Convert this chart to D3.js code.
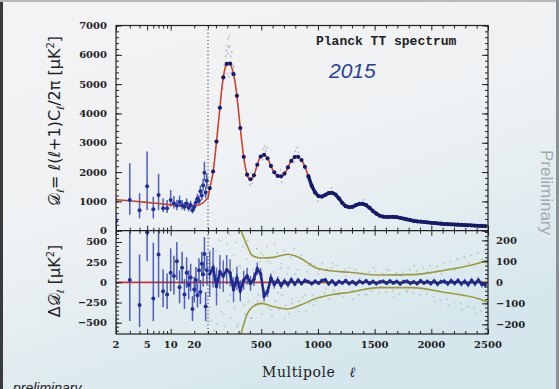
<!DOCTYPE html>
<html>
<head>
<meta charset="utf-8">
<script src="https://cdn.jsdelivr.net/npm/d3@7"></script>
<style>
html, body { margin: 0; padding: 0; overflow: hidden; }
svg { display: block; }
</style>
</head>
<body>
<svg id="chart"></svg>
<script>
// best fit LCDM curve
var theoryL = [2,3,4,5,6,8,10,13,16,20,23,26,29,30,40,50,60,70,80,90,100,110,120,130,140,150,160,170,180,190,200,210,220,230,240,250,260,270,280,290,300,310,320,330,340,350,360,370,380,390,400,410,420,430,440,450,460,470,480,490,500,510,520,530,540,550,560,570,580,590,600,620,640,660,680,700,720,740,760,780,800,820,840,860,880,900,920,940,960,980,1000,1020,1040,1060,1080,1100,1120,1140,1160,1180,1200,1220,1240,1260,1280,1300,1320,1340,1360,1380,1400,1420,1440,1460,1480,1500,1550,1600,1650,1700,1750,1800,1850,1900,1950,2000,2100,2200,2300,2400,2500];
var theoryD = [1060,1020,990,965,945,910,885,850,830,840,880,960,1080,1120,1320,1520,1700,1880,2150,2480,2850,3230,3600,3980,4400,4800,5100,5350,5530,5650,5710,5730,5720,5660,5560,5420,5250,5030,4760,4420,4050,3680,3320,2980,2660,2380,2150,1980,1860,1790,1760,1760,1790,1850,1940,2060,2190,2310,2420,2500,2550,2580,2590,2580,2550,2500,2430,2350,2260,2170,2080,1960,1880,1850,1860,1920,2040,2200,2350,2460,2520,2530,2480,2380,2230,2030,1800,1580,1400,1270,1190,1160,1170,1210,1260,1290,1300,1280,1220,1130,1020,920,850,810,800,810,840,880,910,920,910,880,830,760,690,620,500,470,470,460,420,370,330,310,290,270,230,210,190,170,150];

// low-l (2-29) points with error bar ends
var lowL  = [2,3,4,5,6,7,8,9,10,11,12,13,14,15,16,17,18,19,20,21,22,23,24,25,26,27,28,29];
var lowD  = [320,1050,700,1520,730,1220,770,770,1050,940,860,980,870,820,930,780,880,700,810,960,1100,1020,1350,1200,1550,1980,1300,1700];
var lowLo = [130,540,420,700,420,700,640,600,820,760,700,800,720,680,790,660,760,590,700,840,960,890,1180,1040,1360,1700,1120,1470];
var lowHi = [620,2300,1280,2700,1160,1940,1110,1050,1390,1180,1060,1200,1050,980,1100,920,1020,830,940,1100,1260,1180,1540,1380,1760,2350,1520,1950];

// low-l residuals (left axis)
var lowRes   = [-740,30,-280,620,-200,345,-110,-150,120,80,260,-60,180,-150,120,-30,60,-330,-90,30,-160,150,-120,230,100,350,-300,150];
var lowResLo = [-1050,-480,-555,260,-480,-185,-310,-330,-110,-150,30,-260,-20,-330,-70,-210,-110,-480,-250,-130,-310,0,-270,80,-50,150,-480,-30];
var lowResHi = [-430,1280,345,1800,490,1000,160,110,420,330,500,150,380,40,310,150,230,-170,70,190,-10,300,30,380,250,560,-120,330];

// binned high-l points
var binL = [45,75,105,135,165,195,225,255,285,315,345,375,405,435,465,495,525,555,585,615,645,675,705,735,765,795,825,855,885,915,945,975,1005,1035,1065,1095,1125,1155,1185,1215,1245,1275,1305,1335,1365,1395,1425,1455,1485,1515,1545,1575,1605,1635,1665,1695,1725,1755,1785,1815,1845,1875,1905,1935,1965,1995,2025,2055,2085,2115,2145,2175,2205,2235,2265,2295,2325,2355,2385,2415,2445,2475];
var binD = [1450,2020,3040,4190,5230,5690,5700,5340,4600,3500,2520,1910,1755,1890,2250,2530,2590,2470,2210,1990,1870,1855,1950,2160,2380,2510,2520,2410,2180,1860,1530,1300,1180,1165,1220,1285,1295,1235,1105,945,835,800,815,870,915,915,870,780,670,580,510,480,468,470,470,462,440,415,385,360,335,318,308,296,285,272,262,250,238,228,222,215,210,204,198,192,186,180,174,168,162,156];
var binRes = [40,70,-20,50,30,60,45,-35,20,-40,10,30,-5,15,65,40,-65,-45,20,-10,10,-15,5,-10,12,-8,10,-5,8,3,-6,5,-4,9,12,-7,6,-10,4,-3,8,-6,3,-8,5,-2,7,-5,4,-6,2,5,-4,6,-3,4,-7,3,5,-4,2,-6,7,-3,4,-5,6,-8,3,5,-6,7,-4,9,-7,4,-10,8,-6,10,-9,-12];
var binErr = [110,95,90,80,75,70,65,60,55,50,45,40,35,32,30,28,26,24,22,20,18,16,15,14,13,12,12,11,11,10,10,10,9,9,9,9,9,9,9,9,9,9,9,9,9,9,9,9,9,9,9,9,9,9,9,10,10,10,10,10,10,10,10,10,11,11,11,11,11,12,12,12,12,12,13,13,13,14,14,14,15,15];

// +-1 sigma envelope in residual panel (right axis)
var envL  = [320,379,420,500,610,735,847,970,1110,1280,1535,1830,2120,2415,2500];
var envUp = [249,170,128,116,119,134,115,72,55,48,35,37,58,91,106];
var envLo = [-249,-147,-118,-100,-116,-127,-108,-79,-60,-47,-25,-25,-48,-78,-95];

// unbinned grey points
var scatL = [40,55,70,85,100,115,130,145,160,175,190,205,220,235,250,265,280,295,310,325,340,355,370,385,400,415,430,445,460,475,490,505,520,535,550,565,580,595,610,625,640,655,670,685,700,715,730,745,760,775,790,805,820,835,850,865,880,895,910,925,940,955,970,985,1000,1020,1040,1060,1080,1100,1120,1140,1160,1180,1200,1220,1240,1260,1280,1300,1330,1360,1390,1420,1450,1480,1510,1540,1570,1600,1630,1660,1690,1720,1750,1780,1810,1840,1870,1900,1930,1960,1990,2020,2050,2080,2110,2140,2170,2200,2230,2260,2290,2320,2350,2380,2410,2440,2470,2495];
var scatR = [210,-180,90,-230,150,-60,200,-140,40,-210,120,-90,230,-170,60,-120,190,-200,80,-40,170,-150,110,-90,140,-170,60,-110,160,-60,100,-150,130,-40,170,-120,90,-160,50,-90,140,-130,70,-60,150,-110,40,-150,120,-80,160,-120,60,-90,130,-70,100,-140,50,-100,90,-60,80,-90,40,-70,90,-50,60,-80,70,-40,80,-60,50,-70,60,-50,70,-40,60,-60,45,-55,50,-40,55,-50,40,-45,55,-40,45,-55,50,-45,60,-50,55,-60,70,-55,80,-70,75,-85,90,-80,100,-95,110,-100,120,-115,130,-120,140,-135,150,-140];
var scatL2 = [48,78,108,138,168,198,228,258,288,318,348,378,408,438,468,498,528,558,588,618,648,678,708,738,768,798,828,858,888,918,960,1010,1070,1130,1190,1250,1310,1370,1430,1490,1550,1610,1670,1730,1790,1850,1910,1970,2030,2090,2150,2210,2270,2330,2390,2450];
var scatR2 = [-120,160,-200,90,-150,180,-60,130,-210,70,-110,200,-170,40,-90,140,-60,100,-130,180,-50,90,-170,70,-100,40,-140,110,-60,80,-110,60,-30,90,-50,30,-80,20,-60,70,-20,60,-70,30,-40,80,-30,50,-90,40,-110,60,-130,90,-150,110];
var scatTopL = [175,185,192,200,205,210,215,220,225,230,240,250,198,213,232,520,530,540,550,512,800,815,830,790,400,420,410,680,670,1000,1120,1400,260,160];
var scatTopD = [5650,5950,6150,6300,6050,6550,6250,6650,6300,5950,6100,5650,5350,5250,5400,2780,2880,2720,2830,2420,2720,2840,2680,2330,1560,1620,1980,1660,2070,1010,1460,1060,5600,4850];

// ticks
var lowTicks = [2,5,10,20];
var highTicks = [500,1000,1500,2000,2500];
var topTicks = [0,1000,2000,3000,4000,5000,6000,7000];
var resTicksL = [-500,-250,0,250,500];
var resTicksR = [-200,-100,0,100,200];

var w = 559, h = 389;
var pL = 116, pR = 488, pT = 25.5, pM = 230.7, pB = 334, lcut = 208;

var svg = d3.select('#chart').attr('width', w).attr('height', h);

var xLog = d3.scaleLog().domain([2, 30]).range([pL, lcut]);
var xLin = d3.scaleLinear().domain([30, 2500]).range([lcut, pR]);
function X(l) { return l < 30 ? xLog(l) : xLin(l); }
var yTop = d3.scaleLinear().domain([0, 7000]).range([pM, pT]);
var yResL = d3.scaleLinear().domain([-640, 640]).range([pB, pM]);
var yResR = d3.scaleLinear().domain([-246, 246]).range([pB, pM]);

// background (photo of a slide)
var defs = svg.append('defs');
var g1 = defs.append('linearGradient').attr('id', 'bg')
    .attr('x1', 0).attr('y1', 0).attr('x2', 0.45).attr('y2', 1);
g1.append('stop').attr('offset', 0).attr('stop-color', '#f3f3f5');
g1.append('stop').attr('offset', 0.55).attr('stop-color', '#eef1f3');
g1.append('stop').attr('offset', 1).attr('stop-color', '#d5e7ec');
svg.append('rect').attr('width', w).attr('height', h).attr('fill', 'url(#bg)');
svg.append('rect').attr('x', 0).attr('y', 0).attr('width', 3).attr('height', h).attr('fill', '#3a3a3a');
svg.append('rect').attr('x', 0).attr('y', 0).attr('width', w).attr('height', 2).attr('fill', '#b8b8b8');
svg.append('rect').attr('x', 556).attr('y', 0).attr('width', 3).attr('height', h).attr('fill', '#8a9094');

defs.append('clipPath').attr('id', 'clipTop').append('rect')
    .attr('x', pL).attr('y', pT).attr('width', pR - pL).attr('height', pM - pT);
defs.append('clipPath').attr('id', 'clipRes').append('rect')
    .attr('x', pL).attr('y', pM).attr('width', pR - pL).attr('height', pB - pM);

var gTop = svg.append('g').attr('clip-path', 'url(#clipTop)');
var gRes = svg.append('g').attr('clip-path', 'url(#clipRes)');

// residual panel
function scatter(ls, rs) {
    gRes.selectAll(null)
        .data(ls)
        .enter()
        .append('circle')
        .attr('cx', function(d){ return X(d); })
        .attr('cy', function(d,i){ return yResR(rs[i]); })
        .attr('r', 0.9)
        .attr('fill', '#8d98b0')
        .attr('opacity', 0.5);
}
scatter(scatL, scatR);
scatter(scatL2, scatR2);

var envLine = function(vals) {
    return d3.line()
        .x(function(d){ return X(d); })
        .y(function(d,i){ return yResR(vals[i]); })
        .curve(d3.curveMonotoneX)(envL);
};
gRes.append('path').attr('d', envLine(envUp)).attr('fill', 'none').attr('stroke', '#9c9a3c').attr('stroke-width', 1.6);
gRes.append('path').attr('d', envLine(envLo)).attr('fill', 'none').attr('stroke', '#9c9a3c').attr('stroke-width', 1.6);

gRes.append('line')
    .attr('x1', pL).attr('x2', pR)
    .attr('y1', yResL(0)).attr('y2', yResL(0))
    .attr('stroke', '#c0392b').attr('stroke-width', 1.6);

gRes.selectAll('line.lowbar')
    .data(lowL)
    .enter()
    .append('line')
    .attr('x1', function(d){ return X(d); })
    .attr('x2', function(d){ return X(d); })
    .attr('y1', function(d,i){ return yResL(lowResLo[i]); })
    .attr('y2', function(d,i){ return yResL(lowResHi[i]); })
    .attr('stroke', '#3445b0').attr('stroke-width', 1.5).attr('opacity', 0.85);
gRes.selectAll('circle.lowres')
    .data(lowL)
    .enter()
    .append('circle')
    .attr('cx', function(d){ return X(d); })
    .attr('cy', function(d,i){ return yResL(lowRes[i]); })
    .attr('r', 2)
    .attr('fill', '#1f2f9c');

gRes.selectAll('line.binbar')
    .data(binL)
    .enter()
    .append('line')
    .attr('x1', function(d){ return X(d); })
    .attr('x2', function(d){ return X(d); })
    .attr('y1', function(d,i){ return yResR(binRes[i] - binErr[i]); })
    .attr('y2', function(d,i){ return yResR(binRes[i] + binErr[i]); })
    .attr('stroke', '#3445b0').attr('stroke-width', 1.4).attr('opacity', 0.8);
gRes.append('path')
    .attr('d', d3.line()
        .x(function(d){ return X(d); })
        .y(function(d,i){ return yResR(binRes[i]); })(binL))
    .attr('fill', 'none').attr('stroke', '#1f2a8c').attr('stroke-width', 2.6);
gRes.selectAll('circle.binres')
    .data(binL)
    .enter()
    .append('circle')
    .attr('cx', function(d){ return X(d); })
    .attr('cy', function(d,i){ return yResR(binRes[i]); })
    .attr('r', 1.8)
    .attr('fill', '#1f2a8c');

// top panel
gTop.selectAll('circle.scat')
    .data(scatTopL)
    .enter()
    .append('circle')
    .attr('cx', function(d){ return X(d); })
    .attr('cy', function(d,i){ return yTop(scatTopD[i]); })
    .attr('r', 1)
    .attr('fill', '#9aa0b4')
    .attr('opacity', 0.6);

gTop.selectAll('line.lowbar')
    .data(lowL)
    .enter()
    .append('line')
    .attr('x1', function(d){ return X(d); })
    .attr('x2', function(d){ return X(d); })
    .attr('y1', function(d,i){ return yTop(lowLo[i]); })
    .attr('y2', function(d,i){ return yTop(lowHi[i]); })
    .attr('stroke', '#3445b0').attr('stroke-width', 1.5).attr('opacity', 0.85);

gTop.append('path')
    .attr('d', d3.line()
        .x(function(d){ return X(d); })
        .y(function(d,i){ return yTop(theoryD[i]); })
        .curve(d3.curveMonotoneX)(theoryL))
    .attr('fill', 'none').attr('stroke', '#c9412e').attr('stroke-width', 1.6);

gTop.selectAll('circle.low')
    .data(lowL)
    .enter()
    .append('circle')
    .attr('cx', function(d){ return X(d); })
    .attr('cy', function(d,i){ return yTop(lowD[i]); })
    .attr('r', 2)
    .attr('fill', '#1f2f9c');

// bins beyond l~900 merge into a thick band
gTop.append('path')
    .attr('d', d3.line()
        .defined(function(d){ return d >= 900; })
        .x(function(d){ return X(d); })
        .y(function(d,i){ return yTop(binD[i]); })(binL))
    .attr('fill', 'none').attr('stroke', '#15196a').attr('stroke-width', 3.4);
gTop.selectAll('circle.bin')
    .data(binL)
    .enter()
    .append('circle')
    .attr('cx', function(d){ return X(d); })
    .attr('cy', function(d,i){ return yTop(binD[i]); })
    .attr('r', 2.1)
    .attr('fill', '#15196a');

// dotted l=30 line
svg.append('line')
    .attr('x1', X(30)).attr('x2', X(30))
    .attr('y1', pT).attr('y2', pB)
    .attr('stroke', '#555').attr('stroke-width', 1.2)
    .attr('stroke-dasharray', '1.2,2.4');

// frame
svg.append('rect')
    .attr('x', pL).attr('y', pT).attr('width', pR - pL).attr('height', pB - pT)
    .attr('fill', 'none').attr('stroke', '#222').attr('stroke-width', 1.2);
svg.append('line')
    .attr('x1', pL).attr('x2', pR).attr('y1', pM).attr('y2', pM)
    .attr('stroke', '#222').attr('stroke-width', 1.2);

// axes: ticks point inwards
function ticks(axis, translate, scale, vals, size) {
    svg.append('g')
        .attr('transform', translate)
        .call(axis(scale).tickValues(vals).tickSize(size).tickFormat(''))
        .call(function(g){ g.select('.domain').remove(); })
        .selectAll('line').attr('stroke', '#222');
}
var logMinor = [3,4,6,7,8,9,20,30];
var logMajor = [2,5,10];
var linMinor = [100,200,300,400,600,700,800,900,1100,1200,1300,1400,1600,1700,1800,1900,2100,2200,2300,2400];
[pB, pM].forEach(function(yy) {
    ticks(d3.axisTop, 'translate(0,' + yy + ')', xLog, logMinor, 3);
    ticks(d3.axisTop, 'translate(0,' + yy + ')', xLog, logMajor, 5);
    ticks(d3.axisTop, 'translate(0,' + yy + ')', xLin, linMinor, 3);
    ticks(d3.axisTop, 'translate(0,' + yy + ')', xLin, highTicks, 5);
});
[pT, pM].forEach(function(yy) {
    ticks(d3.axisBottom, 'translate(0,' + yy + ')', xLog, logMinor, 3);
    ticks(d3.axisBottom, 'translate(0,' + yy + ')', xLog, logMajor, 5);
    ticks(d3.axisBottom, 'translate(0,' + yy + ')', xLin, linMinor, 3);
    ticks(d3.axisBottom, 'translate(0,' + yy + ')', xLin, highTicks, 5);
});
var topMinor = d3.range(0, 7001, 200);
ticks(d3.axisRight, 'translate(' + pL + ',0)', yTop, topMinor, 3);
ticks(d3.axisRight, 'translate(' + pL + ',0)', yTop, topTicks, 6);
ticks(d3.axisLeft, 'translate(' + pR + ',0)', yTop, topMinor, 3);
ticks(d3.axisLeft, 'translate(' + pR + ',0)', yTop, topTicks, 6);
ticks(d3.axisRight, 'translate(' + pL + ',0)', yResL, d3.range(-600, 601, 50), 3);
ticks(d3.axisRight, 'translate(' + pL + ',0)', yResL, resTicksL, 6);
ticks(d3.axisLeft, 'translate(' + pR + ',0)', yResR, d3.range(-240, 241, 20), 3);
ticks(d3.axisLeft, 'translate(' + pR + ',0)', yResR, resTicksR, 6);

// tick labels
var lab = { 'font-family': 'DejaVu Serif', 'font-weight': 'bold', 'font-size': '10px', 'fill': '#222' };
function label(sel) {
    for (var k in lab) sel.attr(k, lab[k]);
    return sel;
}
function minus(v) { return String(v).replace('-', '\u2212'); }

label(svg.selectAll('text.ty').data(topTicks).enter().append('text'))
    .attr('x', 107).attr('y', function(d){ return yTop(d) + 3.5; })
    .attr('text-anchor', 'end').text(function(d){ return d; });
label(svg.selectAll('text.rl').data(resTicksL).enter().append('text'))
    .attr('x', 107).attr('y', function(d){ return yResL(d) + 3.5; })
    .attr('text-anchor', 'end').text(function(d){ return minus(d); });
label(svg.selectAll('text.rr').data(resTicksR).enter().append('text'))
    .attr('x', 496).attr('y', function(d){ return yResR(d) + 3.5; })
    .attr('text-anchor', 'start').text(function(d){ return minus(d); });
label(svg.selectAll('text.xl').data(lowTicks).enter().append('text'))
    .attr('x', function(d){ return xLog(d); }).attr('y', 348)
    .attr('text-anchor', 'middle').text(function(d){ return d; });
label(svg.selectAll('text.xh').data(highTicks).enter().append('text'))
    .attr('x', function(d){ return xLin(d); }).attr('y', 348)
    .attr('text-anchor', 'middle').text(function(d){ return d; });

// titles
var yt = svg.append('text')
    .attr('transform', 'translate(60,121) rotate(-90)')
    .attr('text-anchor', 'middle')
    .attr('font-family', 'DejaVu Sans').attr('font-size', '16px').attr('fill', '#222');
yt.append('tspan').text('\uD835\uDC9F');
yt.append('tspan').attr('font-size', '10px').attr('dy', 4).text('\u2113');
yt.append('tspan').attr('dy', -4).text('= \u2113(\u2113+1)C');
yt.append('tspan').attr('font-size', '10px').attr('dy', 4).text('\u2113');
yt.append('tspan').attr('dy', -4).text('/2\u03C0 [\u03BCK');
yt.append('tspan').attr('font-size', '10px').attr('dy', -6).text('2');
yt.append('tspan').attr('dy', 6).text(']');

var rt = svg.append('text')
    .attr('transform', 'translate(60,281) rotate(-90)')
    .attr('text-anchor', 'middle')
    .attr('font-family', 'DejaVu Sans').attr('font-size', '16px').attr('fill', '#222');
rt.append('tspan').text('\u0394\uD835\uDC9F');
rt.append('tspan').attr('font-size', '10px').attr('dy', 4).text('\u2113');
rt.append('tspan').attr('dy', -4).text(' [\u03BCK');
rt.append('tspan').attr('font-size', '10px').attr('dy', -6).text('2');
rt.append('tspan').attr('dy', 6).text(']');

var xt = svg.append('text')
    .attr('x', 262).attr('y', 377)
    .attr('font-family', 'DejaVu Serif').attr('font-size', '14px')
    .attr('letter-spacing', '0.6px').attr('fill', '#222');
xt.append('tspan').text('Multipole');
xt.append('tspan').attr('dx', 14).attr('font-style', 'italic').text('\u2113');

svg.append('text')
    .attr('x', 316).attr('y', 45)
    .attr('font-family', 'Liberation Mono').attr('font-weight', 'bold')
    .attr('font-size', '13px').attr('fill', '#222')
    .text('Planck TT spectrum');

svg.append('text')
    .attr('x', 329).attr('y', 78)
    .attr('font-family', 'Liberation Sans').attr('font-style', 'italic')
    .attr('font-size', '21px').attr('fill', '#2a3f9c')
    .text('2015');

svg.append('text')
    .attr('transform', 'translate(541,150) rotate(90)')
    .attr('font-family', 'Liberation Sans').attr('font-size', '17px')
    .attr('fill', '#a4a8b0')
    .text('Preliminary');

svg.append('text')
    .attr('x', 13).attr('y', 393)
    .attr('font-family', 'Liberation Sans').attr('font-style', 'italic')
    .attr('font-size', '14px').attr('fill', '#222')
    .text('preliminary');
</script>
</body>
</html>
